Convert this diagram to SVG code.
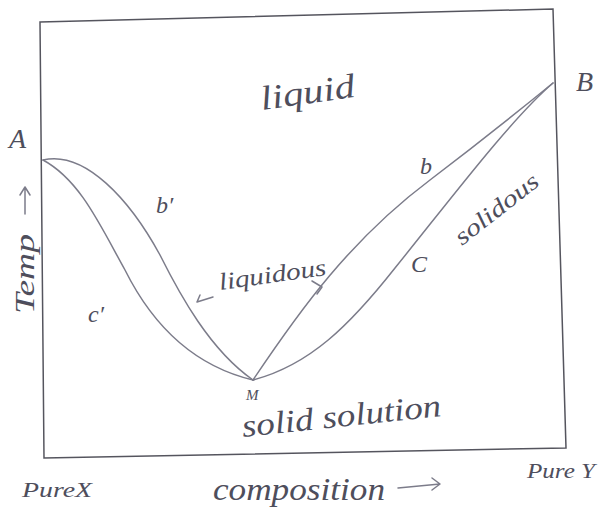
<svg xmlns="http://www.w3.org/2000/svg" width="600" height="515" viewBox="0 0 600 515">
<style>
.ln{fill:none;stroke:#7c7c8a;stroke-width:1.5;stroke-linecap:round;stroke-linejoin:round}
.bx{fill:none;stroke:#55555e;stroke-width:1.5}
.t{font-family:"Liberation Serif",serif;font-style:italic;fill:#4e4e5c;font-size:28px}
.s{font-size:24px}
</style>
<rect width="600" height="515" fill="#ffffff"/>
<g id="frame">
<path class="bx" d="M40,22 L553,9 L566,448 L44,458 Z"/>
</g>
<g id="curves">
<path class="ln" d="M43,160 C85,150 130,200 160,255 C180,295 210,350 253,380"/>
<path class="ln" d="M43,160 C80,180 100,225 125,270 C150,320 190,365 253,380"/>
<path class="ln" d="M253,380 C300,310 350,240 430,180 C480,142 520,110 553,83"/>
<path class="ln" d="M253,380 C310,365 350,325 395,268 C450,200 510,120 553,83"/>
<path class="ln" d="M197,302 L213,297 M197,302 L200,295"/>
<path class="ln" d="M312,281 L322,287 L317,294"/>
</g>
<g id="labels">
<text class="t" x="9" y="148">A</text>
<text class="t" x="576" y="91">B</text>
<text class="t" x="262" y="110" style="font-size:34px" textLength="95" lengthAdjust="spacingAndGlyphs" transform="rotate(-8 262 110)">liquid</text>
<text class="t s" x="420" y="174">b</text>
<text class="t s" x="156" y="213">b′</text>
<text class="t s" x="88" y="322">c′</text>
<text class="t s" x="411" y="272">C</text>
<text class="t s" x="462" y="246" textLength="100" lengthAdjust="spacingAndGlyphs" transform="rotate(-38 462 246)">solidous</text>
<text class="t s" x="220" y="290" textLength="108" lengthAdjust="spacingAndGlyphs" transform="rotate(-8 220 290)">liquidous</text>
<text class="t" x="246" y="400" style="font-size:15px">M</text>
<text class="t" x="243" y="437" style="font-size:32px" textLength="200" lengthAdjust="spacingAndGlyphs" transform="rotate(-6 243 437)">solid solution</text>
<text class="t s" x="34" y="314" style="font-size:28px" textLength="80" lengthAdjust="spacingAndGlyphs" transform="rotate(-90 34 314)">Temp</text>
<path class="ln" d="M25,214 L25,188 M20,195 L25,187 L30,195"/>
<text class="t" x="22" y="497" style="font-size:22px" textLength="70" lengthAdjust="spacingAndGlyphs">PureX</text>
<text class="t" x="213" y="500" style="font-size:32px" textLength="172" lengthAdjust="spacingAndGlyphs">composition</text>
<path class="ln" d="M398,488 L440,484 M432,478 L440,484 L432,490"/>
<text class="t" x="527" y="478" style="font-size:22px" textLength="68" lengthAdjust="spacingAndGlyphs">Pure Y</text>
</g>
</svg>
